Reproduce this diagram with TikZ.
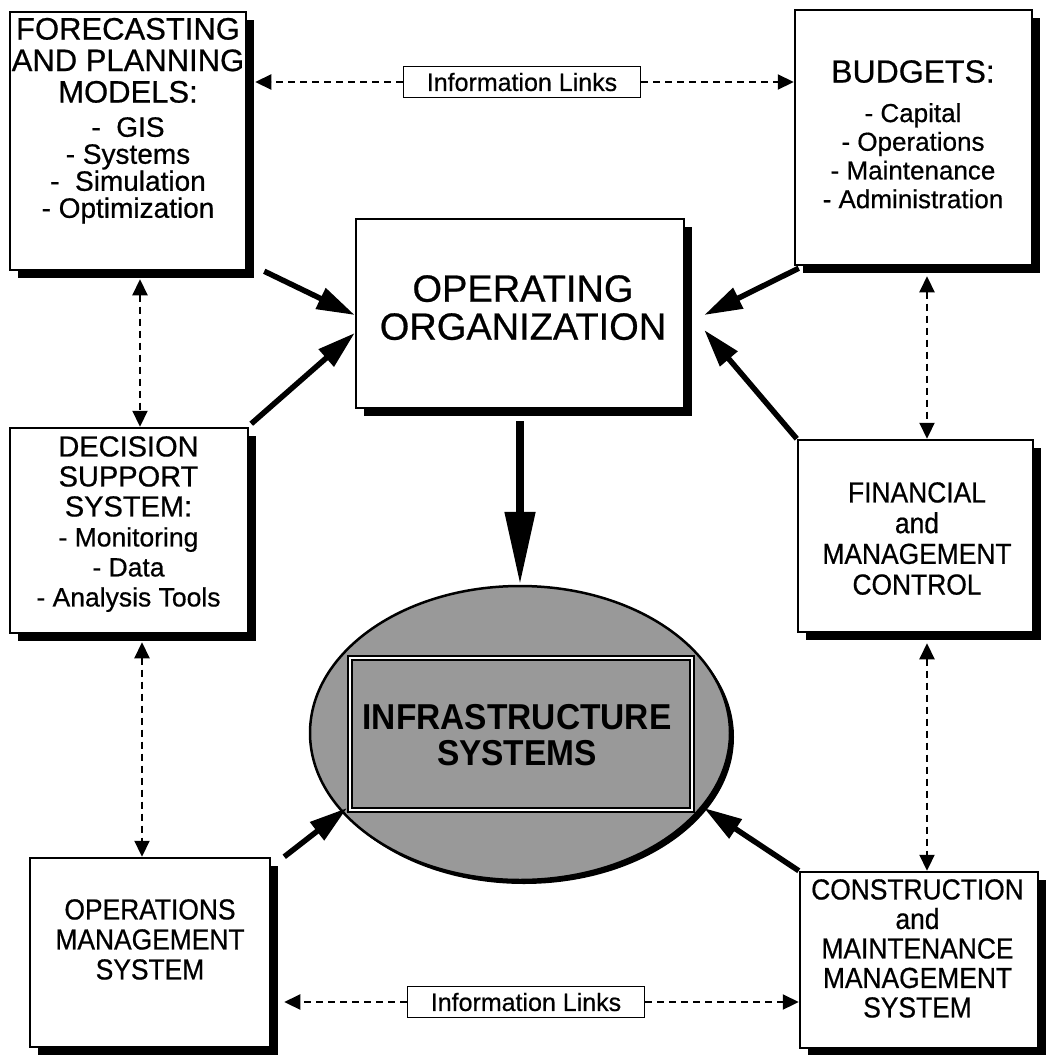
\documentclass[tikz,border=0pt]{standalone}
\usepackage{fontspec}
\setmainfont{Liberation Sans}[FakeBold=0.6]
\newfontfamily\narrowfont[FakeStretch=0.91,FakeBold=0.6]{Liberation Sans}
\newfontfamily\infrafont[FakeStretch=0.93]{Liberation Sans Bold}
\usetikzlibrary{arrows.meta,shapes.geometric,shadows}
\definecolor{shade}{gray}{0.6}
\begin{document}
\begin{tikzpicture}[x=1pt,y=-1pt,
  box/.style={draw, line width=2.5pt, fill=white, rectangle, inner sep=0pt,
    drop shadow={shadow xshift=8pt, shadow yshift=-8pt, fill=black, opacity=1}},
  txt/.style={inner sep=0pt, align=center, anchor=north},
  flow/.style={line width=5.5pt, -{Triangle[length=38pt,width=22pt]}},
  bigflow/.style={line width=8pt, -{Triangle[length=73pt,width=29pt]}},
  info/.style={line width=2.2pt, dash pattern=on 7pt off 5pt,
    {Triangle[length=16pt,width=15pt]}-{Triangle[length=16pt,width=15pt]}},
  infoR/.style={line width=2.2pt, dash pattern=on 7pt off 5pt,
    -{Triangle[length=16pt,width=15pt]}},
  infolabel/.style={draw, line width=1.6pt, fill=white, inner sep=0pt,
    minimum width=237pt, minimum height=31pt, font=\fontsize{25}{27}\selectfont}
]
\useasboundingbox (0,0) rectangle (1045,1055);

% boxes
\node[box, minimum width=236pt, minimum height=258pt] (b1) at (128,141) {};
\node[box, minimum width=237pt, minimum height=255pt] (b2) at (913.5,137.5) {};
\node[box, minimum width=328pt, minimum height=189pt] (org) at (520,313.5) {};
\node[box, minimum width=238pt, minimum height=205pt] (dss) at (129,530.5) {};
\node[box, minimum width=235pt, minimum height=192pt] (fmc) at (915.5,536) {};
\node[box, minimum width=240pt, minimum height=189pt] (oms) at (150,952.5) {};
\node[box, minimum width=238pt, minimum height=176pt] (cmms) at (919,960) {};

% ellipse
\node[ellipse, draw, line width=2.5pt, fill=shade, inner sep=0pt,
  minimum width=420pt, minimum height=294pt,
  drop shadow={shadow xshift=4pt, shadow yshift=-4pt, fill=black, opacity=1}] (ell) at (520,733) {};
\node[rectangle, draw=black, double=white, double distance=2.5pt, line width=1.8pt,
  fill=shade, inner sep=0pt, minimum width=342pt, minimum height=152pt] (irect) at (521,734) {};

% texts
\node[txt, font=\fontsize{31}{31.5}\selectfont] (b1t) at (128,17.7) {FORECASTING\\AND PLANNING\\MODELS:};
\node[txt, font=\fontsize{28}{27}\selectfont] (b1i) at (128,117) {-~ GIS\\- Systems\\-~ Simulation\\- Optimization};
\node[txt, font=\fontsize{32}{33}\selectfont] (b2t) at (913,60) {BUDGETS:};
\node[txt, font=\fontsize{26}{28.7}\selectfont] (b2i) at (913,103) {- Capital\\- Operations\\- Maintenance\\- Administration};
\node[txt, font=\fontsize{29}{30}\selectfont] (dsst) at (128.5,436) {DECISION\\SUPPORT\\SYSTEM:\\{\fontsize{26.5}{30}\selectfont - Monitoring}\\{\fontsize{26.5}{30}\selectfont - Data}\\{\fontsize{26.5}{30}\selectfont - Analysis Tools}};
\node[txt, font=\narrowfont\fontsize{29}{30.7}\selectfont] (fmct) at (917,482) {FINANCIAL\\and\\MANAGEMENT\\CONTROL};
\node[txt, font=\narrowfont\fontsize{29}{30}\selectfont] (omst) at (150,899) {OPERATIONS\\MANAGEMENT\\SYSTEM};
\node[txt, font=\narrowfont\fontsize{29}{29.5}\selectfont] (cmmst) at (917.5,879) {CONSTRUCTION\\and\\MAINTENANCE\\MANAGEMENT\\SYSTEM};
\node[txt, font=\fontsize{38}{38}\selectfont] (orgt) at (523,275) {OPERATING\\ORGANIZATION};
\node[txt, font=\infrafont\fontsize{36}{36}\selectfont] (infrat) at (517,704) {INFRASTRUCTURE\\SYSTEMS};

% information link labels
\node[infolabel] (lab1) at (522,82) {Information Links};
\node[infolabel] (lab2) at (526,1002) {Information Links};

% dashed information links
\draw[infoR] (lab1.west) -- ([xshift=8pt,yshift=59pt]b1.east);
\draw[infoR] (lab1.east) -- ([yshift=55.5pt]b2.west);
\draw[infoR] (lab2.west) -- ([xshift=13pt,yshift=-49.5pt]oms.east);
\draw[infoR] (lab2.east) -- ([yshift=-42pt]cmms.west);
\draw[info] ([xshift=12pt,yshift=-8pt]b1.south) -- ([xshift=11pt]dss.north);
\draw[info] ([xshift=13pt,yshift=-8pt]dss.south) -- ([xshift=-8pt]oms.north);
\draw[info] ([xshift=13.5pt,yshift=-10pt]b2.south) -- ([xshift=11.5pt]fmc.north);
\draw[info] ([xshift=11.5pt,yshift=-10pt]fmc.south) -- ([xshift=8pt]cmms.north);

% solid flows
\draw[flow] ([xshift=17pt]b1.south east) -- ([yshift=-1.5pt]org.west);
\draw[flow] ([xshift=2pt,yshift=3pt]dss.north east) -- ([yshift=-19.5pt]org.west);
\draw[flow] ([xshift=5pt,yshift=-2pt]b2.south west) -- ([xshift=19pt,yshift=-1.5pt]org.east);
\draw[flow] (fmc.north west) -- ([xshift=19pt,yshift=-16.5pt]org.east);
\draw[bigflow] ([yshift=-12pt]org.south) -- (ell.north);
\draw[flow] ([xshift=13pt]oms.north east) -- ([xshift=-173pt,yshift=-75pt]ell.center);
\draw[flow] (cmms.north west) -- ([xshift=184pt,yshift=-75pt]ell.center);
\end{tikzpicture}
\end{document}
